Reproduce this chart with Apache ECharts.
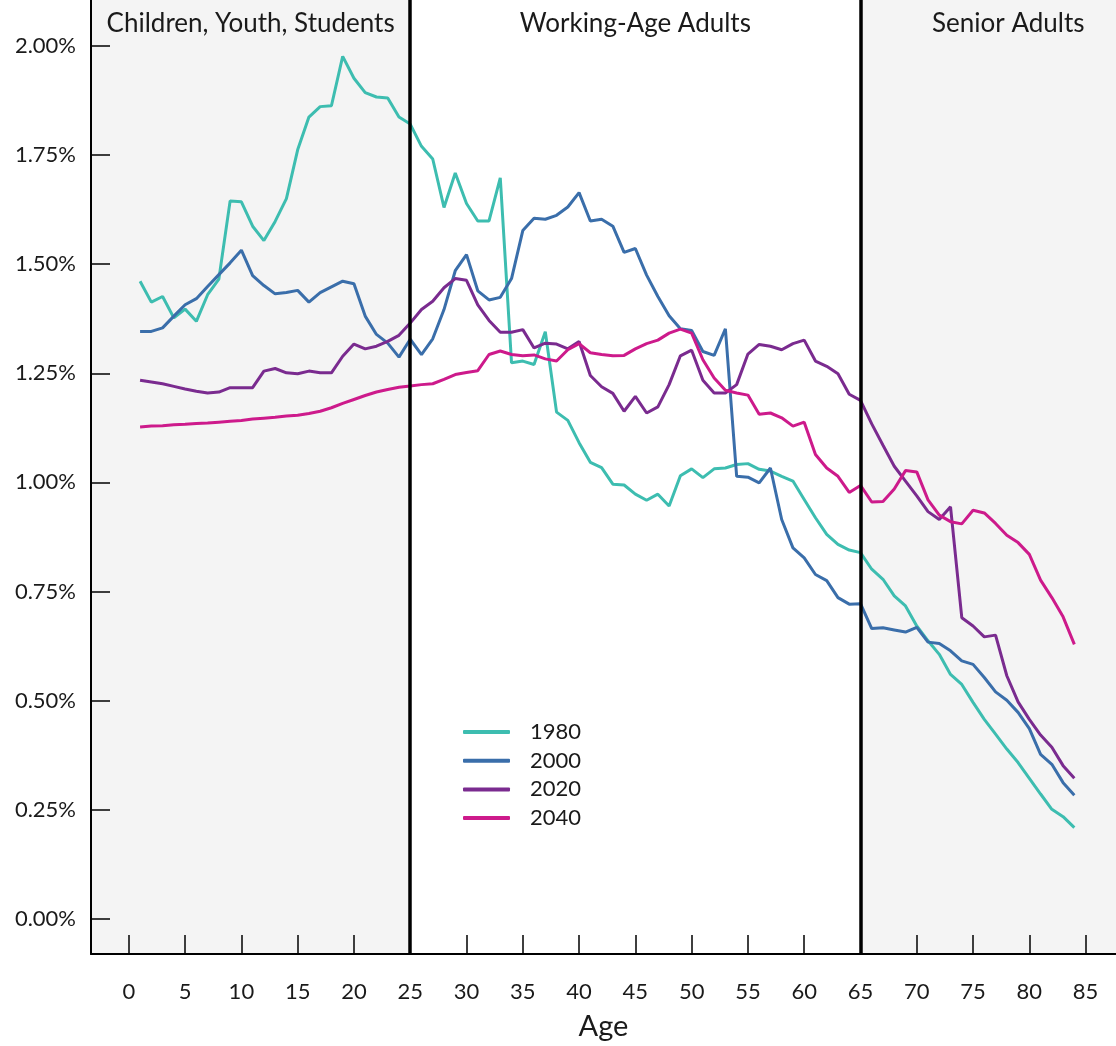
<!DOCTYPE html>
<html>
<head>
<meta charset="utf-8">
<script src="https://cdn.jsdelivr.net/npm/echarts@6/dist/echarts.min.js"></script>
<style>
  html, body { margin: 0; padding: 0; background: #fff; }
  #chart { width: 1116px; height: 1046px; }
</style>
</head>
<body>
<div id="chart"></div>
<script>
// age (years), share of population in %
var ages = [1, 2, 3, 4, 5, 6, 7, 8, 9, 10, 11, 12, 13, 14, 15, 16, 17, 18, 19, 20,
  21, 22, 23, 24, 25, 26, 27, 28, 29, 30, 31, 32, 33, 34, 35, 36, 37, 38, 39, 40,
  41, 42, 43, 44, 45, 46, 47, 48, 49, 50, 51, 52, 53, 54, 55, 56, 57, 58, 59, 60,
  61, 62, 63, 64, 65, 66, 67, 68, 69, 70, 71, 72, 73, 74, 75, 76, 77, 78, 79, 80,
  81, 82, 83, 84];

var y1980 = [1.461, 1.413, 1.426, 1.377, 1.397, 1.369, 1.430, 1.466, 1.645, 1.643,
  1.587, 1.554, 1.598, 1.650, 1.762, 1.837, 1.861, 1.863, 1.976, 1.926,
  1.893, 1.883, 1.881, 1.837, 1.821, 1.770, 1.741, 1.630, 1.709, 1.639,
  1.599, 1.599, 1.698, 1.274, 1.278, 1.270, 1.345, 1.161, 1.142, 1.091,
  1.046, 1.034, 0.996, 0.994, 0.973, 0.959, 0.973, 0.946, 1.015, 1.031,
  1.011, 1.031, 1.033, 1.041, 1.043, 1.030, 1.026, 1.014, 1.003, 0.961,
  0.919, 0.881, 0.858, 0.845, 0.839, 0.801, 0.778, 0.740, 0.717, 0.671,
  0.637, 0.606, 0.560, 0.537, 0.496, 0.457, 0.423, 0.389, 0.358, 0.322,
  0.286, 0.251, 0.234, 0.209];

var y2000 = [1.346, 1.346, 1.354, 1.381, 1.407, 1.421, 1.449, 1.476, 1.503, 1.532,
  1.474, 1.451, 1.432, 1.435, 1.440, 1.413, 1.435, 1.448, 1.461, 1.455,
  1.381, 1.339, 1.319, 1.287, 1.328, 1.293, 1.329, 1.396, 1.485, 1.522,
  1.439, 1.418, 1.424, 1.467, 1.577, 1.605, 1.603, 1.612, 1.631, 1.664,
  1.599, 1.603, 1.587, 1.527, 1.536, 1.475, 1.426, 1.382, 1.352, 1.348,
  1.300, 1.291, 1.352, 1.014, 1.012, 0.999, 1.033, 0.915, 0.850, 0.827,
  0.789, 0.775, 0.736, 0.721, 0.722, 0.665, 0.667, 0.662, 0.657, 0.668,
  0.634, 0.631, 0.614, 0.591, 0.583, 0.553, 0.520, 0.501, 0.473, 0.436,
  0.377, 0.354, 0.312, 0.283];

var y2020 = [1.234, 1.230, 1.226, 1.220, 1.214, 1.209, 1.205, 1.207, 1.217, 1.217,
  1.217, 1.255, 1.261, 1.251, 1.249, 1.255, 1.251, 1.251, 1.289, 1.317,
  1.306, 1.312, 1.323, 1.337, 1.365, 1.396, 1.415, 1.446, 1.467, 1.463,
  1.407, 1.371, 1.344, 1.344, 1.350, 1.308, 1.319, 1.317, 1.306, 1.323,
  1.245, 1.219, 1.204, 1.163, 1.197, 1.159, 1.173, 1.224, 1.290, 1.303,
  1.234, 1.205, 1.205, 1.224, 1.294, 1.316, 1.312, 1.304, 1.318, 1.326,
  1.278, 1.266, 1.249, 1.202, 1.188, 1.134, 1.085, 1.037, 1.003, 0.969,
  0.933, 0.915, 0.944, 0.690, 0.671, 0.646, 0.650, 0.557, 0.497, 0.457,
  0.421, 0.393, 0.351, 0.322];

var y2040 = [1.127, 1.129, 1.130, 1.132, 1.133, 1.135, 1.136, 1.138, 1.140, 1.142,
  1.145, 1.147, 1.149, 1.152, 1.154, 1.158, 1.163, 1.171, 1.181, 1.190,
  1.199, 1.207, 1.213, 1.218, 1.221, 1.224, 1.226, 1.236, 1.247, 1.252,
  1.256, 1.293, 1.301, 1.293, 1.290, 1.292, 1.283, 1.278, 1.304, 1.318,
  1.297, 1.293, 1.290, 1.291, 1.306, 1.318, 1.326, 1.342, 1.351, 1.342,
  1.281, 1.239, 1.211, 1.205, 1.200, 1.156, 1.159, 1.148, 1.129, 1.138,
  1.064, 1.033, 1.014, 0.977, 0.993, 0.955, 0.956, 0.985, 1.027, 1.024,
  0.960, 0.925, 0.910, 0.905, 0.936, 0.930, 0.906, 0.879, 0.862, 0.835,
  0.776, 0.736, 0.692, 0.629];

var years = ['1980', '2000', '2020', '2040'];
var colors = ['#3dbdb0', '#3a6eaa', '#7a2b8f', '#cd1a8b'];
var xTicks = [0, 5, 10, 15, 20, 25, 30, 35, 40, 45, 50, 55, 60, 65, 70, 75, 80, 85];
var yTicks = [0, 0.25, 0.5, 0.75, 1, 1.25, 1.5, 1.75, 2];
var groups = ['Children, Youth, Students', 'Working-Age Adults', 'Senior Adults'];
var bounds = [25, 65];

var X_MIN = -3.36, X_MAX = 87.7;
var Y_MIN = -0.0806, Y_MAX = 2.1053;
var FONT = 'Lato';
var INK = '#1a1a1a';

function pairs(vals) {
  return ages.map(function (a, i) { return [a, vals[i]]; });
}
var allVals = [y1980, y2000, y2020, y2040];

var series = [];
// shaded age groups
series.push({
  type: 'line', data: [], z: 1, silent: true,
  markArea: {
    silent: true,
    label: { position: 'insideTop', distance: 11, color: INK, fontSize: 26, fontFamily: FONT },
    data: [
      [{ name: groups[0], xAxis: X_MIN, itemStyle: { color: '#f4f4f4' } }, { xAxis: bounds[0] }],
      [{ name: groups[1], xAxis: bounds[0], itemStyle: { color: 'rgba(0,0,0,0)' } }, { xAxis: bounds[1] }],
      [{ name: groups[2], xAxis: bounds[1], itemStyle: { color: '#f4f4f4' }, label: { offset: [20, 0] } }, { xAxis: X_MAX }]
    ]
  }
});
years.forEach(function (y, i) {
  series.push({
    name: y,
    type: 'line',
    z: 3,
    symbol: 'none',
    data: pairs(allVals[i]),
    lineStyle: { color: colors[i], width: 3 },
    itemStyle: { color: colors[i] }
  });
});
// boundaries between groups
series.push({
  type: 'line', data: [], z: 10, silent: true,
  markLine: {
    silent: true, symbol: 'none', animation: false,
    label: { show: false },
    lineStyle: { color: '#000', width: 3.5, type: 'solid' },
    data: bounds.map(function (b) { return { xAxis: b }; })
  }
});

var chart = echarts.init(document.getElementById('chart'));
chart.setOption({
  animation: false,
  backgroundColor: '#fff',
  textStyle: { fontFamily: FONT },
  grid: { left: 91, right: 0, top: 0, bottom: 91 },
  legend: {
    data: years,
    orient: 'vertical',
    left: 463, top: 721, padding: 0,
    icon: 'roundRect',
    itemWidth: 47, itemHeight: 4, itemGap: 6.7,
    textStyle: { fontSize: 22, color: INK, fontFamily: FONT, lineHeight: 20, padding: [0, 0, 0, 15] }
  },
  xAxis: {
    type: 'value',
    z: 5,
    min: X_MIN, max: X_MAX,
    name: 'Age', nameLocation: 'middle', nameGap: 58,
    nameTextStyle: { fontSize: 29, color: INK, fontFamily: FONT },
    axisLine: { onZero: false, lineStyle: { color: '#000', width: 2 } },
    axisTick: { inside: true, length: 19, customValues: xTicks, lineStyle: { color: '#000', width: 1.5 } },
    axisLabel: { customValues: xTicks, margin: 27, fontSize: 22, color: INK, fontFamily: FONT },
    splitLine: { show: false }
  },
  yAxis: {
    type: 'value',
    z: 5,
    min: Y_MIN, max: Y_MAX,
    axisLine: { show: true, onZero: false, lineStyle: { color: '#000', width: 2 } },
    axisTick: { show: true, inside: true, length: 19, customValues: yTicks, lineStyle: { color: '#000', width: 1.5 } },
    axisLabel: {
      customValues: yTicks, margin: 15, fontSize: 22, color: INK, fontFamily: FONT,
      formatter: function (v) { return v.toFixed(2) + '%'; }
    },
    splitLine: { show: false }
  },
  series: series
});
</script>
</body>
</html>
